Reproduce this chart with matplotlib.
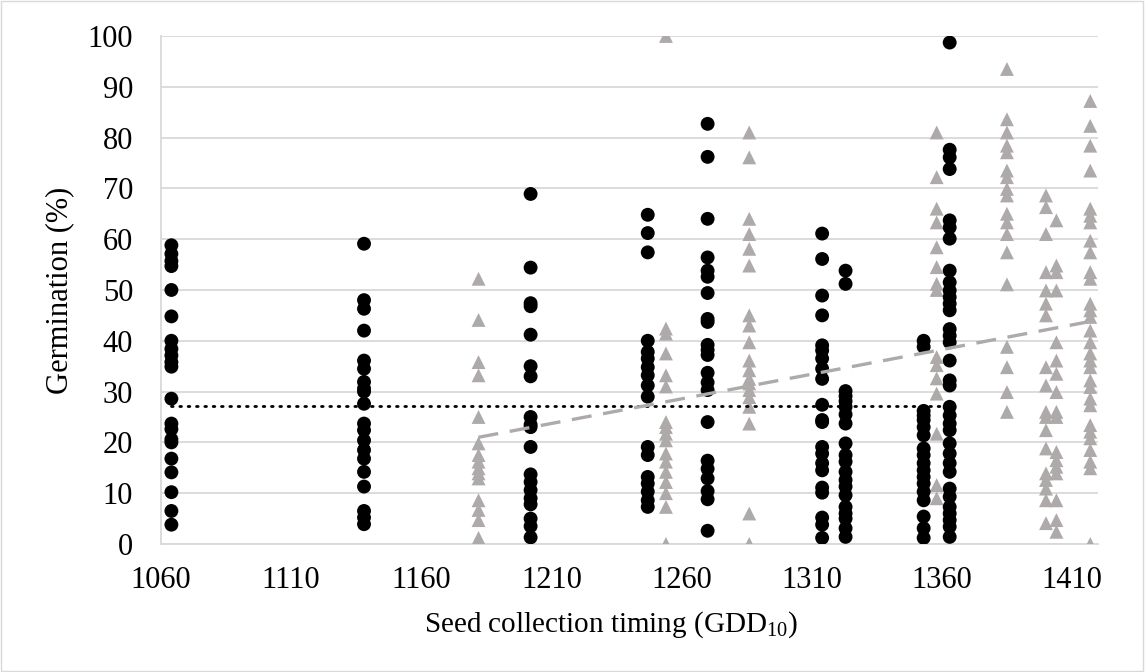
import numpy as np
import matplotlib.pyplot as plt
from matplotlib.patches import Rectangle

# black circles: collection timing (GDD10) -> germination values
circle_x = [1064, 1138, 1202, 1247, 1270, 1314, 1323, 1353, 1363]
circle_y = [
    [58.8, 57.1, 55.7, 54.7, 50.0, 44.8, 40.0, 38.4, 37.1, 35.8, 34.9, 28.6, 23.7,
     22.6, 20.6, 20.0, 16.8, 14.1, 10.2, 6.5, 3.8],
    [59.1, 48.0, 46.3, 42.0, 36.1, 34.5, 31.9, 30.6, 30.0, 27.6, 23.7, 22.4, 20.4,
     18.5, 16.8, 14.2, 11.3, 6.5, 5.2, 3.9],
    [68.9, 54.4, 47.4, 46.8, 41.2, 35.0, 33.0, 25.0, 23.5, 23.0, 19.1, 13.7, 12.2,
     10.6, 9.0, 7.8, 5.0, 3.5, 1.3],
    [64.8, 61.2, 57.4, 40.0, 37.8, 36.5, 34.8, 33.2, 31.2, 29.0, 19.1, 17.5, 13.2,
     11.9, 10.3, 8.6, 7.3],
    [82.7, 76.2, 64.0, 56.4, 53.8, 52.6, 49.4, 44.3, 43.7, 39.2, 38.2, 37.2, 33.7,
     31.8, 30.3, 24.0, 16.4, 14.8, 12.9, 10.4, 8.8, 2.6],
    [61.1, 56.1, 48.9, 45.0, 39.1, 38.1, 36.5, 34.5, 32.5, 27.4, 24.4, 24.0, 19.1,
     17.8, 15.9, 14.5, 11.1, 10.1, 5.2, 3.8, 1.2],
    [53.8, 51.2, 30.1, 29.1, 28.1, 27.0, 25.5, 23.7, 19.8, 17.5, 16.2, 14.2, 12.6,
     11.3, 9.6, 7.3, 6.0, 5.0, 3.1, 1.4],
    [40.0, 38.8, 26.2, 25.3, 24.4, 23.0, 21.4, 18.8, 17.5, 15.9, 14.5, 13.2, 11.9,
     10.3, 8.6, 5.4, 3.1, 1.2],
    [98.7, 77.6, 76.1, 73.8, 63.7, 62.3, 60.1, 53.8, 51.5, 49.9, 48.6, 47.3, 46.0,
     42.3, 41.0, 39.7, 36.1, 32.2, 31.2, 27.0, 25.3, 23.7, 22.4, 19.8, 17.8, 15.9,
     14.2, 10.9, 9.3, 7.3, 6.0, 4.7, 3.4, 1.4],
]

# grey triangles
tri_x = [1182, 1254, 1286, 1358, 1385, 1400, 1404, 1417]
tri_y = [
    [52.2, 44.1, 35.8, 33.2, 25.0, 19.8, 17.5, 16.2, 14.9, 13.9, 12.9, 8.6, 6.7,
     4.7, 1.2, 0.0],
    [100.0, 42.4, 41.4, 37.5, 33.2, 31.0, 24.0, 23.0, 21.7, 20.4, 17.8, 16.2, 14.2,
     12.2, 10.0, 7.3, 0.0],
    [81.0, 76.1, 64.0, 61.0, 58.1, 54.8, 45.0, 43.0, 39.7, 36.1, 34.2, 32.5, 31.6,
     30.3, 28.9, 27.0, 23.7, 6.0, 0.0],
    [81.0, 72.2, 66.0, 63.3, 58.4, 54.5, 51.2, 50.0, 36.8, 35.2, 32.6, 29.6, 21.7,
     11.6, 9.0],
    [93.5, 83.6, 81.0, 78.4, 77.1, 73.5, 72.2, 69.9, 68.6, 65.0, 63.3, 61.0, 57.4,
     51.1, 38.8, 34.8, 29.9, 26.0],
    [68.6, 66.3, 61.0, 53.5, 49.9, 47.3, 45.0, 34.8, 31.2, 26.0, 25.0, 22.4, 18.8,
     13.9, 12.6, 10.9, 8.6, 4.1],
    [63.7, 54.8, 53.5, 49.9, 39.7, 36.1, 33.5, 29.9, 26.0, 25.0, 18.1, 16.5, 15.2,
     13.9, 8.6, 4.7, 2.4],
    [87.2, 82.3, 78.4, 73.5, 66.0, 64.6, 63.3, 59.7, 57.4, 53.5, 52.2, 47.3, 46.0,
     44.7, 42.0, 39.7, 37.5, 36.1, 34.8, 32.2, 30.9, 28.6, 27.3, 23.4, 22.1, 20.8,
     18.5, 16.2, 14.9, 0.0],
]

# reference lines
circle_level = 27.2            # flat dotted line for the circle series
tri_slope, tri_icpt = 0.097, -93.65   # dashed linear trend for the triangles

cx = np.concatenate([[x] * len(v) for x, v in zip(circle_x, circle_y)])
cy = np.concatenate(circle_y)
tx = np.concatenate([[x] * len(v) for x, v in zip(tri_x, tri_y)])
ty = np.concatenate(tri_y)

plt.rcParams['font.family'] = ['Liberation Serif', 'DejaVu Serif']
plt.rcParams['mathtext.fontset'] = 'custom'
plt.rcParams['mathtext.rm'] = 'Liberation Serif'

fig = plt.figure(figsize=(11.45, 6.72), dpi=100)
ax = fig.add_axes([0.1406, 0.1905, 0.8184, 0.756])

grey = '#AEAAAA'
ax.scatter(tx, ty, marker='^', s=100, c=grey, edgecolor='none', zorder=3)
ax.scatter(cx, cy, marker='o', s=100, c='black', edgecolor='none', zorder=4)

ax.plot([cx.min(), cx.max()], [circle_level] * 2, color='black', lw=2,
        linestyle=(0, (0.6, 2.4)), dash_capstyle='round', zorder=5)
xs = np.array([tx.min(), tx.max()])
ax.plot(xs, tri_slope * xs + tri_icpt, color=grey, lw=2.4,
        linestyle=(0, (6, 3.5)), zorder=5)

ax.set_xlim(1060, 1420)
ax.set_ylim(0, 100)
ax.set_xticks(np.arange(1060, 1411, 50))
ax.set_yticks(np.arange(0, 101, 10))
ax.grid(axis='y', color='#D9D9D9', lw=1.3)
ax.set_axisbelow(True)
ax.tick_params(length=0, labelsize=22)
ax.tick_params(axis='y', pad=20)
ax.tick_params(axis='x', pad=16)
for s in ['top', 'right']:
    ax.spines[s].set_visible(False)
for s in ['left', 'bottom']:
    ax.spines[s].set_color('#D9D9D9')
    ax.spines[s].set_linewidth(1.3)

ax.set_xlabel('Seed collection timing (GDD$_{\\mathregular{10}}$)', fontsize=21)
ax.xaxis.set_label_coords(0.48, -0.158)
ax.xaxis.label.set_verticalalignment('center')
ax.set_ylabel('Germination (%)', fontsize=22, labelpad=10)

fig.patches.append(Rectangle((0.001, 0.001), 0.997, 0.997, transform=fig.transFigure,
                             fill=False, edgecolor='#D9D9D9', lw=1))

fig.savefig('out.png', dpi=100)
